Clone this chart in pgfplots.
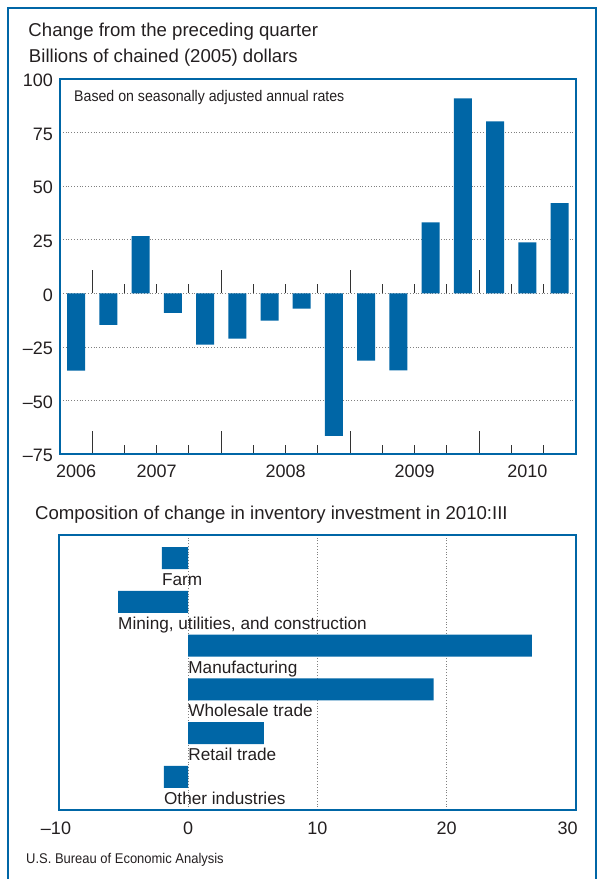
\documentclass[border=0pt]{standalone}
\usepackage{fontspec}
\setmainfont{Liberation Sans}
\newfontfamily\narrowfont[FakeStretch=0.92]{Liberation Sans}
\usepackage{pgfplots}
\pgfplotsset{compat=1.18}
\definecolor{beablue}{RGB}{0,102,166}
\definecolor{txt}{RGB}{35,31,32}
\pgfplotstableread{
x y
0 -36.0
1 -14.6
2 26.7
3 -9.0
4 -23.8
5 -21.1
6 -12.7
7 -7.1
8 -66.4
9 -31.3
10 -35.9
11 33.2
12 91.0
13 80.2
14 23.8
15 42.1
}\quarterly
\pgfplotstableread{
x y
-2.03 5
-5.43 4
26.6 3
19.0 2
5.86 1
-1.88 0
}\composition
\tikzset{yrlab/.style={anchor=base, inner sep=0, text=txt, font=\fontsize{18bp}{21bp}\selectfont, yshift=-23.2bp},
  barlab/.style={anchor=base west, inner sep=0, text=txt, font=\fontsize{17.2bp}{20bp}\selectfont, yshift=-27.5bp}}
\begin{document}
\begin{tikzpicture}[x=1bp,y=1bp]
\useasboundingbox (0,0) rectangle (598,-879);
\draw[beablue, line width=2bp] (8.3,-879) -- (8.3,-8.3) -- (596.3,-8.3) -- (596.3,-879);
\node[anchor=base west, inner sep=0, text=txt, font=\fontsize{18.6bp}{22bp}\selectfont] at (28.3,-36) {Change from the preceding quarter};
\node[anchor=base west, inner sep=0, text=txt, font=\fontsize{18.6bp}{22bp}\selectfont] at (28.8,-62.7) {Billions of chained (2005) dollars};
\begin{axis}[
  at={(60bp,-454.3bp)}, anchor=south west,
  scale only axis, width=515.7bp, height=375.3bp,
  xmin=-0.5, xmax=15.5, ymin=-75, ymax=100,
  clip=false,
  axis line style={draw=beablue, line width=2bp},
  ytick={-75,-50,-25,0,25,50,75,100},
  yticklabels={–75,–50,–25,0,25,50,75,100},
  ytick style={draw=none},
  yticklabel style={anchor=east, inner sep=0pt, xshift=-7bp, yshift=-1.5bp},
  ymajorgrids,
  grid style={draw=gray, line width=0.8bp, dash pattern=on 0.8bp off 2bp},
  xtick={0.5,4.5,8.5,12.5}, xticklabels={},
  minor xtick={1.5,2.5,3.5,5.5,6.5,7.5,9.5,10.5,11.5,13.5,14.5},
  tick align=inside, tick pos=left,
  major tick length=23bp, minor tick length=9.5bp,
  xtick style={draw=black!80, line width=0.9bp},
  tick label style={text=txt, font=\fontsize{18bp}{21bp}\selectfont},
]
\addplot[ybar, bar width=18bp, fill=beablue, draw=none] table[x=x, y=y] {\quarterly};
\pgfplotsinvokeforeach{0.5,4.5,8.5,12.5}{\draw[black!80, line width=0.9bp] (axis cs:#1,0) -- ([yshift=23bp]axis cs:#1,0);}
\pgfplotsinvokeforeach{1.5,2.5,3.5,5.5,6.5,7.5,9.5,10.5,11.5,13.5,14.5}{\draw[black!80, line width=0.9bp] (axis cs:#1,0) -- ([yshift=9.5bp]axis cs:#1,0);}
\node[yrlab] at (axis cs:0,-75) {2006};
\node[yrlab] at (axis cs:2.5,-75) {2007};
\node[yrlab] at (axis cs:6.5,-75) {2008};
\node[yrlab] at (axis cs:10.5,-75) {2009};
\node[yrlab] at (axis cs:14,-75) {2010};
\end{axis}
\node[anchor=base west, inner sep=0, text=txt, font=\narrowfont\fontsize{15.4bp}{18bp}\selectfont] at (74,-101.7) {Based on seasonally adjusted annual rates};
\node[anchor=base west, inner sep=0, text=txt, font=\fontsize{18.6bp}{22bp}\selectfont] at (35,-519) {Composition of change in inventory investment in 2010:III};
\begin{axis}[
  at={(59bp,-810bp)}, anchor=south west,
  scale only axis, width=516.7bp, height=275bp,
  xmin=-10, xmax=30, ymin=-0.756, ymax=5.53,
  clip=false,
  axis line style={draw=beablue, line width=2bp},
  xtick={-10,0,10,20,30}, xticklabels={{–10\hspace*{6bp}},0,10,20,{30\hspace*{16bp}}},
  ytick=\empty,
  xtick style={draw=none},
  xmajorgrids,
  grid style={draw=gray, line width=0.8bp, dash pattern=on 0.8bp off 2bp},
  tick align=inside, tick pos=left,
  xticklabel style={anchor=base, inner sep=0pt, yshift=-24bp, text=txt, font=\fontsize{18bp}{21bp}\selectfont},
]
\addplot[xbar, bar width=22bp, fill=beablue, draw=none] table[x=x, y=y] {\composition};
\node[barlab] at (axis cs:-2.03,5) {Farm};
\node[barlab] at (axis cs:-5.43,4) {Mining, utilities, and construction};
\node[barlab] at (axis cs:0,3) {Manufacturing};
\node[barlab] at (axis cs:0,2) {Wholesale trade};
\node[barlab] at (axis cs:0,1) {Retail trade};
\node[barlab] at (axis cs:-1.88,0) {Other industries};
\end{axis}
\node[anchor=base west, inner sep=0, text=txt, font=\narrowfont\fontsize{14.1bp}{16bp}\selectfont] at (26,-863) {U.S. Bureau of Economic Analysis};
\end{tikzpicture}
\end{document}
